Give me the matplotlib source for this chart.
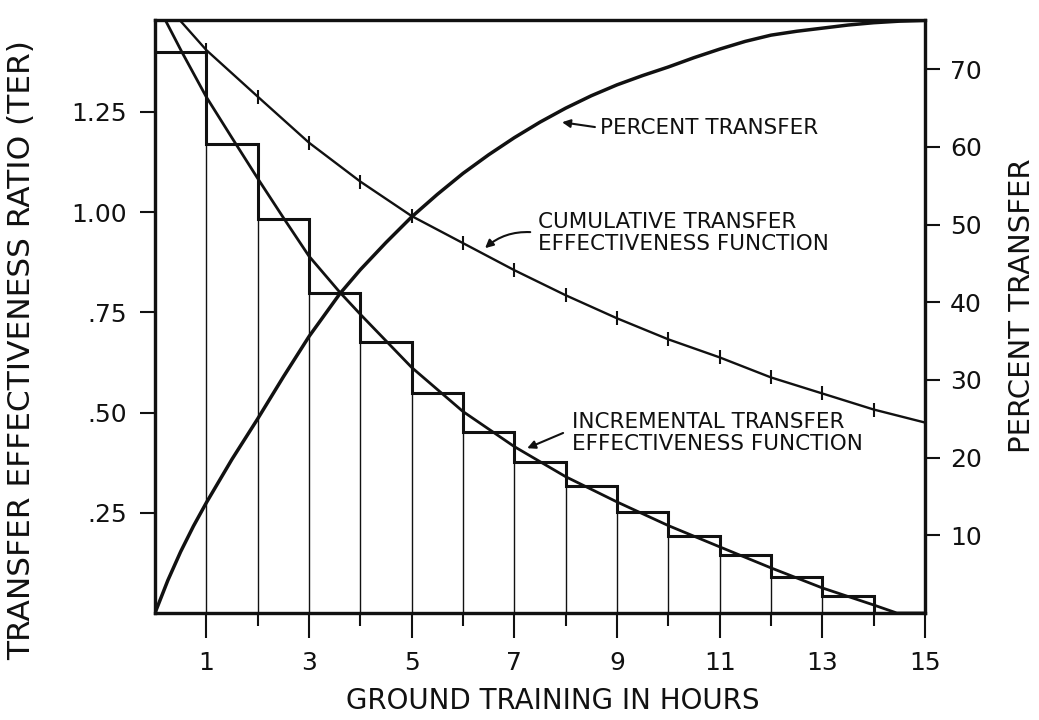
import matplotlib
matplotlib.use("Agg")
import matplotlib.pyplot as plt
import numpy as np

# ---------------- data ----------------
hours_edges = list(range(0, 16))
# incremental TER per hour (step function)
iter_steps = [1.40, 1.170, 0.983, 0.798, 0.676, 0.549, 0.451, 0.377,
              0.317, 0.252, 0.192, 0.145, 0.090, 0.042, 0.0]

# smooth incremental transfer effectiveness function
inc_x = [0.2, 0.52, 1, 1.5, 2, 2.5, 3, 3.6, 4, 5, 6, 7, 8, 9, 10, 11, 12, 13, 14, 14.45, 15]
inc_y = [1.479, 1.40, 1.287, 1.185, 1.084, 0.986, 0.890, 0.80, 0.745, 0.6125, 0.5025,
         0.415, 0.34, 0.277, 0.218, 0.165, 0.1125, 0.0625, 0.02, 0.0, 0.0]

# cumulative transfer effectiveness function
cum_x = [0.48, 1, 2, 3, 4, 5, 6, 7, 8, 9, 10, 11, 12, 13, 14, 15]
cum_y = [1.479, 1.404, 1.288, 1.173, 1.076, 0.99, 0.9225, 0.855, 0.7925, 0.735,
         0.6825, 0.6375, 0.5875, 0.5475, 0.5075, 0.475]
cum_tick_hours = list(range(1, 15))

# percent transfer
pct_x = [0, 0.25, 0.5, 0.75, 1, 1.5, 2, 2.5, 3, 3.6, 4, 4.5, 5, 5.5, 6, 6.5, 7, 7.5,
         8, 8.5, 9, 9.5, 10, 10.5, 11, 11.5, 12, 12.5, 13, 13.5, 14, 14.5, 15]
pct_y = [0, 4.2, 7.9, 11.2, 14.2, 19.8, 25.0, 30.4, 35.6, 41.1, 44.2, 47.7, 51.0,
         53.9, 56.6, 59.0, 61.2, 63.2, 65.0, 66.6, 68.0, 69.2, 70.3, 71.5, 72.6,
         73.6, 74.4, 74.9, 75.3, 75.7, 76.0, 76.2, 76.3]

x_major = [1, 3, 5, 7, 9, 11, 13, 15]
x_minor = [2, 4, 6, 8, 10, 12, 14]
ter_ticks = [0.25, 0.50, 0.75, 1.00, 1.25]
ter_labels = [".25", ".50", ".75", "1.00", "1.25"]
pct_ticks = [10, 20, 30, 40, 50, 60, 70]
pct_labels = ["10", "20", "30", "40", "50", "60", "70"]

# ---------------- figure ----------------
plt.rcParams['font.family'] = ['DejaVu Sans']
INK = "#111111"
W, H = 1039, 720
fig = plt.figure(figsize=(W / 100, H / 100), dpi=100)
ax = fig.add_axes([155 / W, 1 - 613 / H, 770 / W, 593 / H])
ax.set_xlim(0, 15)
ax.set_ylim(0, 1.479)

# step function (incremental TER per hour)
ax.stairs(iter_steps, hours_edges, color=INK, lw=2.2, baseline=None, zorder=3)
# thin vertical lines under each step boundary
ax.vlines(hours_edges[1:15], 0, iter_steps[1:15], color=INK, lw=1.0, zorder=2)

# smooth incremental function
ax.plot(inc_x, inc_y, color=INK, lw=2.0, zorder=4)
# cumulative function with hour ticks
ax.plot(cum_x, cum_y, color=INK, lw=1.7, zorder=4)
ax.plot(cum_tick_hours, [cum_y[cum_x.index(h)] for h in cum_tick_hours],
        ls='none', marker='|', ms=10, mew=1.5, color=INK, zorder=5)

# axes styling
for s in ax.spines.values():
    s.set_linewidth(2.3)
    s.set_color(INK)

ax.set_xticks(x_major)
ax.set_xticklabels([str(v) for v in x_major])
ax.set_xticks(x_minor, minor=True)
ax.tick_params(axis='x', which='major', length=18, width=1.5, direction='out',
               pad=9, labelsize=18, colors=INK)
ax.tick_params(axis='x', which='minor', length=9, width=1.5, direction='out', colors=INK)
ax.set_yticks(ter_ticks)
ax.set_yticklabels(ter_labels)
ax.tick_params(axis='y', length=11, width=1.5, direction='out', pad=9,
               labelsize=18, colors=INK)

ax.set_xlabel("GROUND TRAINING IN HOURS", fontsize=20, color=INK)
ax.xaxis.set_label_coords(0.516, -0.1245)
ax.set_ylabel("TRANSFER EFFECTIVENESS RATIO (TER)", fontsize=22.5, color=INK)
ax.yaxis.set_label_coords(-0.154, 0.443)

# right axis: percent transfer
ax2 = ax.twinx()
ax2.set_ylim(0, 76.35)
ax2.plot(pct_x, pct_y, color=INK, lw=2.5, zorder=4)
ax2.set_yticks(pct_ticks)
ax2.set_yticklabels(pct_labels)
ax2.tick_params(axis='y', length=11, width=1.5, direction='out', pad=7,
                labelsize=18, colors=INK)
for s in ax2.spines.values():
    s.set_linewidth(2.3)
    s.set_color(INK)
ax2.set_ylabel("PERCENT TRANSFER", fontsize=21, color=INK, rotation=90)
ax2.yaxis.set_label_coords(1.108, 0.519)

# annotations
arrow_kw = dict(arrowstyle='-|>', color=INK, lw=1.5, mutation_scale=12,
                shrinkA=0, shrinkB=0)
ax.annotate('', xy=(7.93, 1.224), xytext=(8.57, 1.212), arrowprops=arrow_kw)
ax.text(8.67, 1.209, "PERCENT TRANSFER", fontsize=15.5, color=INK,
        ha='left', va='center')

ax.annotate('', xy=(6.43, 0.910), xytext=(7.31, 0.950),
            arrowprops=dict(connectionstyle='arc3,rad=0.2', **arrow_kw))
ax.text(7.46, 0.947, "CUMULATIVE TRANSFER\nEFFECTIVENESS FUNCTION", fontsize=15.5,
        color=INK, ha='left', va='center', linespacing=1.12)

ax.annotate('', xy=(7.25, 0.411), xytext=(7.95, 0.449), arrowprops=arrow_kw)
ax.text(8.12, 0.45, "INCREMENTAL TRANSFER\nEFFECTIVENESS FUNCTION", fontsize=15.5,
        color=INK, ha='left', va='center', linespacing=1.12)

fig.savefig("out.png", dpi=100, facecolor='white')
